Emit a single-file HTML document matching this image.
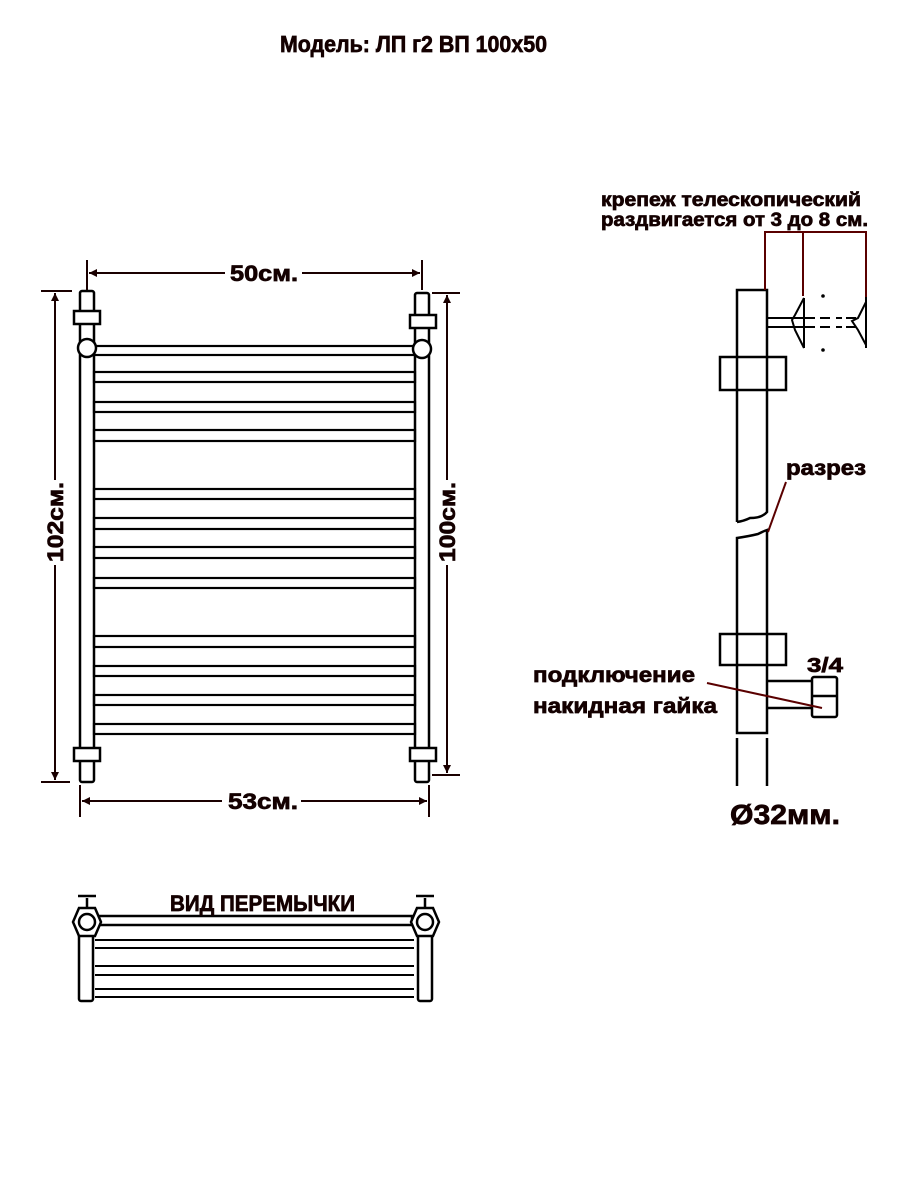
<!DOCTYPE html>
<html><head><meta charset="utf-8"><style>
html,body{margin:0;padding:0;background:#fff;}
svg{display:block;}
text{font-family:"Liberation Sans","DejaVu Sans",sans-serif;font-weight:bold;fill:#140000;stroke:#140000;stroke-width:0.7;}
</style></head><body>
<svg width="900" height="1200" viewBox="0 0 900 1200" xmlns="http://www.w3.org/2000/svg">
<g stroke="#000" stroke-width="2.5" fill="none">
<rect x="80" y="291" width="14" height="491" rx="2" fill="#fff"/>
<rect x="415" y="293" width="14" height="489" rx="2" fill="#fff"/>
<rect x="74" y="311" width="26" height="13" fill="#fff"/>
<rect x="410" y="315" width="26" height="13" fill="#fff"/>
<rect x="74" y="748" width="26" height="13" fill="#fff"/>
<rect x="410" y="748" width="26" height="13" fill="#fff"/>
<g stroke-width="2.2">
<rect x="94" y="346" width="321" height="9"/>
<rect x="94" y="372" width="321" height="10"/>
<rect x="94" y="402" width="321" height="10"/>
<rect x="94" y="430" width="321" height="11"/>
<rect x="94" y="489" width="321" height="10"/>
<rect x="94" y="518" width="321" height="11"/>
<rect x="94" y="547" width="321" height="11"/>
<rect x="94" y="578" width="321" height="10"/>
<rect x="94" y="636" width="321" height="11"/>
<rect x="94" y="666" width="321" height="10"/>
<rect x="94" y="695" width="321" height="10"/>
<rect x="94" y="724" width="321" height="10"/>
</g>
<circle cx="87" cy="348" r="9" fill="#fff"/>
<circle cx="422" cy="349" r="9" fill="#fff"/>
</g>
<g stroke="#1a0000" stroke-width="2" fill="none">
<line x1="87" y1="260" x2="87" y2="290"/><line x1="422" y1="260" x2="422" y2="290"/>
<line x1="89" y1="273" x2="225" y2="273"/><line x1="302" y1="273" x2="420" y2="273"/>
<line x1="41" y1="291" x2="72" y2="291"/><line x1="41" y1="782" x2="70" y2="782"/>
<line x1="55" y1="293" x2="55" y2="480"/><line x1="55" y1="565" x2="55" y2="780"/>
<line x1="432" y1="293" x2="460" y2="293"/><line x1="432" y1="775" x2="460" y2="775"/>
<line x1="447" y1="295" x2="447" y2="480"/><line x1="447" y1="565" x2="447" y2="773"/>
<line x1="80" y1="785" x2="80" y2="817"/><line x1="429" y1="785" x2="429" y2="817"/>
<line x1="82" y1="801" x2="222" y2="801"/><line x1="301" y1="801" x2="427" y2="801"/>
</g>
<g fill="#1a0000">
<path d="M89 273 l8 -4 v8z"/><path d="M420 273 l-8 -4 v8z"/>
<path d="M55 293 l-4 8 h8z"/><path d="M55 780 l-4 -8 h8z"/>
<path d="M447 295 l-4 8 h8z"/><path d="M447 773 l-4 -8 h8z"/>
<path d="M82 801 l8 -4 v8z"/><path d="M427 801 l-8 -4 v8z"/>
</g>
<text x="280" y="52" font-size="23" textLength="267" lengthAdjust="spacingAndGlyphs">Модель: ЛП г2 ВП 100х50</text>
<text x="230" y="281" font-size="22" textLength="68" lengthAdjust="spacingAndGlyphs">50см.</text>
<text x="228" y="809" font-size="22" textLength="70" lengthAdjust="spacingAndGlyphs">53см.</text>
<text transform="translate(63,562) rotate(-90)" font-size="22" textLength="80" lengthAdjust="spacingAndGlyphs">102см.</text>
<text transform="translate(455,562) rotate(-90)" font-size="22" textLength="80" lengthAdjust="spacingAndGlyphs">100см.</text>

<g stroke="#000" stroke-width="2.5" fill="none">
<path d="M737 522 V290 H767 V512 Q762 518 750 518 Q744 521 737 522"/>
<path d="M737 538 Q750 536 758 534 Q764 531 767 530 V733 H737 Z"/>
<rect x="720" y="357" width="66" height="33" fill="#fff"/>
<line x1="737" y1="357" x2="737" y2="390"/><line x1="767" y1="357" x2="767" y2="390"/>
<rect x="720" y="634" width="66" height="31" fill="#fff"/>
<line x1="737" y1="634" x2="737" y2="665"/><line x1="767" y1="634" x2="767" y2="665"/>
<path d="M767 681 H812 M767 708 H812"/>
<rect x="812" y="677" width="25" height="40" rx="2"/>
<line x1="812" y1="696" x2="837" y2="696"/>
<line x1="737" y1="738" x2="737" y2="786"/><line x1="767" y1="738" x2="767" y2="786"/>
<g stroke-width="2">
<path d="M767 318 H815 M767 327 H815"/>
<path d="M820 318 H830 M836 318 H842 M846 318 H856 M820 327 H830 M836 327 H842 M846 327 H856"/>
<path d="M804 298 L795 315 L792 320 L795 330 L804 348 M804 298 V348"/>
<path d="M866 297 V348 M866 302 L858 318 L852 321 L858 330 L866 345"/>
</g>
</g>
<g stroke="#5a0000" stroke-width="2" fill="none">
<path d="M765 290 V232 H866 V297 M803 232 V296"/>
<line x1="786" y1="482" x2="768" y2="532"/>
<line x1="707" y1="683" x2="822" y2="708"/>
</g>
<g fill="#000"><circle cx="823" cy="296" r="1.8"/><circle cx="823" cy="350" r="1.8"/></g>
<text x="601" y="206" font-size="19" textLength="260" lengthAdjust="spacingAndGlyphs">крепеж телескопический</text>
<text x="601" y="226" font-size="19" textLength="267" lengthAdjust="spacingAndGlyphs">раздвигается от 3 до 8 см.</text>
<text x="786" y="475" font-size="21" textLength="80" lengthAdjust="spacingAndGlyphs">разрез</text>
<text x="807" y="672" font-size="20" textLength="36" lengthAdjust="spacingAndGlyphs">3/4</text>
<text x="533" y="682" font-size="21" textLength="162" lengthAdjust="spacingAndGlyphs">подключение</text>
<text x="533" y="713" font-size="21" textLength="184" lengthAdjust="spacingAndGlyphs">накидная гайка</text>
<text x="730" y="824" font-size="28" textLength="110" lengthAdjust="spacingAndGlyphs">Ø32мм.</text>

<g stroke="#000" stroke-width="2.5" fill="none">
<rect x="79" y="922" width="14" height="79" rx="2" fill="#fff"/>
<rect x="418" y="922" width="14" height="79" rx="2" fill="#fff"/>
<rect x="99" y="916" width="313" height="9" fill="#fff"/>
<g stroke-width="2">
<line x1="95" y1="940" x2="414" y2="940"/><line x1="95" y1="948" x2="414" y2="948"/>
<line x1="95" y1="966" x2="414" y2="966"/><line x1="95" y1="975" x2="414" y2="975"/>
<line x1="95" y1="989" x2="414" y2="989"/><line x1="95" y1="997" x2="414" y2="997"/>
</g>
<polygon points="79,908 95,908 101,922 95,936 79,936 73,922" fill="#fff"/>
<circle cx="87" cy="922" r="8"/>
<path d="M87 908 V898 M78 896 H96"/>
<polygon points="417,908 433,908 439,922 433,936 417,936 411,922" fill="#fff"/>
<circle cx="425" cy="922" r="8"/>
<path d="M425 908 V898 M416 896 H434"/>
</g>
<text x="170" y="911" font-size="22" textLength="185" lengthAdjust="spacingAndGlyphs">ВИД ПЕРЕМЫЧКИ</text>
</svg>
</body></html>
